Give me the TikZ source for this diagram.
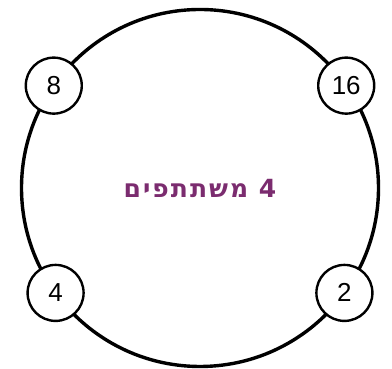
\documentclass[tikz,border=0pt]{standalone}
\usepackage{fontspec}
\setmainfont{Liberation Sans}
\newfontfamily\hebfont[Script=Hebrew, LetterSpace=8]{DejaVu Sans}
\TeXXeTstate=1
\usetikzlibrary{positioning}
\definecolor{plum}{HTML}{7B2C6F}

\begin{document}
\begin{tikzpicture}[x=1pt, y=1pt,
          ring/.style={draw, circle, line width=3.4pt, minimum size=357pt, inner sep=0pt, outer sep=0pt},
          seat/.style={draw, circle, fill=white, line width=2.4pt, minimum size=56pt, inner sep=0pt, font=\fontsize{26}{31}\selectfont}]
        \useasboundingbox (0,0) rectangle (392,369);
        \node[ring] (table) at (200,181) {};
        \node[font=\hebfont\bfseries\fontsize{25}{30}\selectfont, text=plum] (title) at (table.center) {\beginR 4 משתתפים\endR};
        \node[seat] (s8) at (table.145) {8};
        \node[seat] (s16) at (table.35) {16};
        \node[seat] (s4) at (table.216) {4};
        \node[seat] (s2) at (table.-36) {2};
      \end{tikzpicture}
\end{document}
